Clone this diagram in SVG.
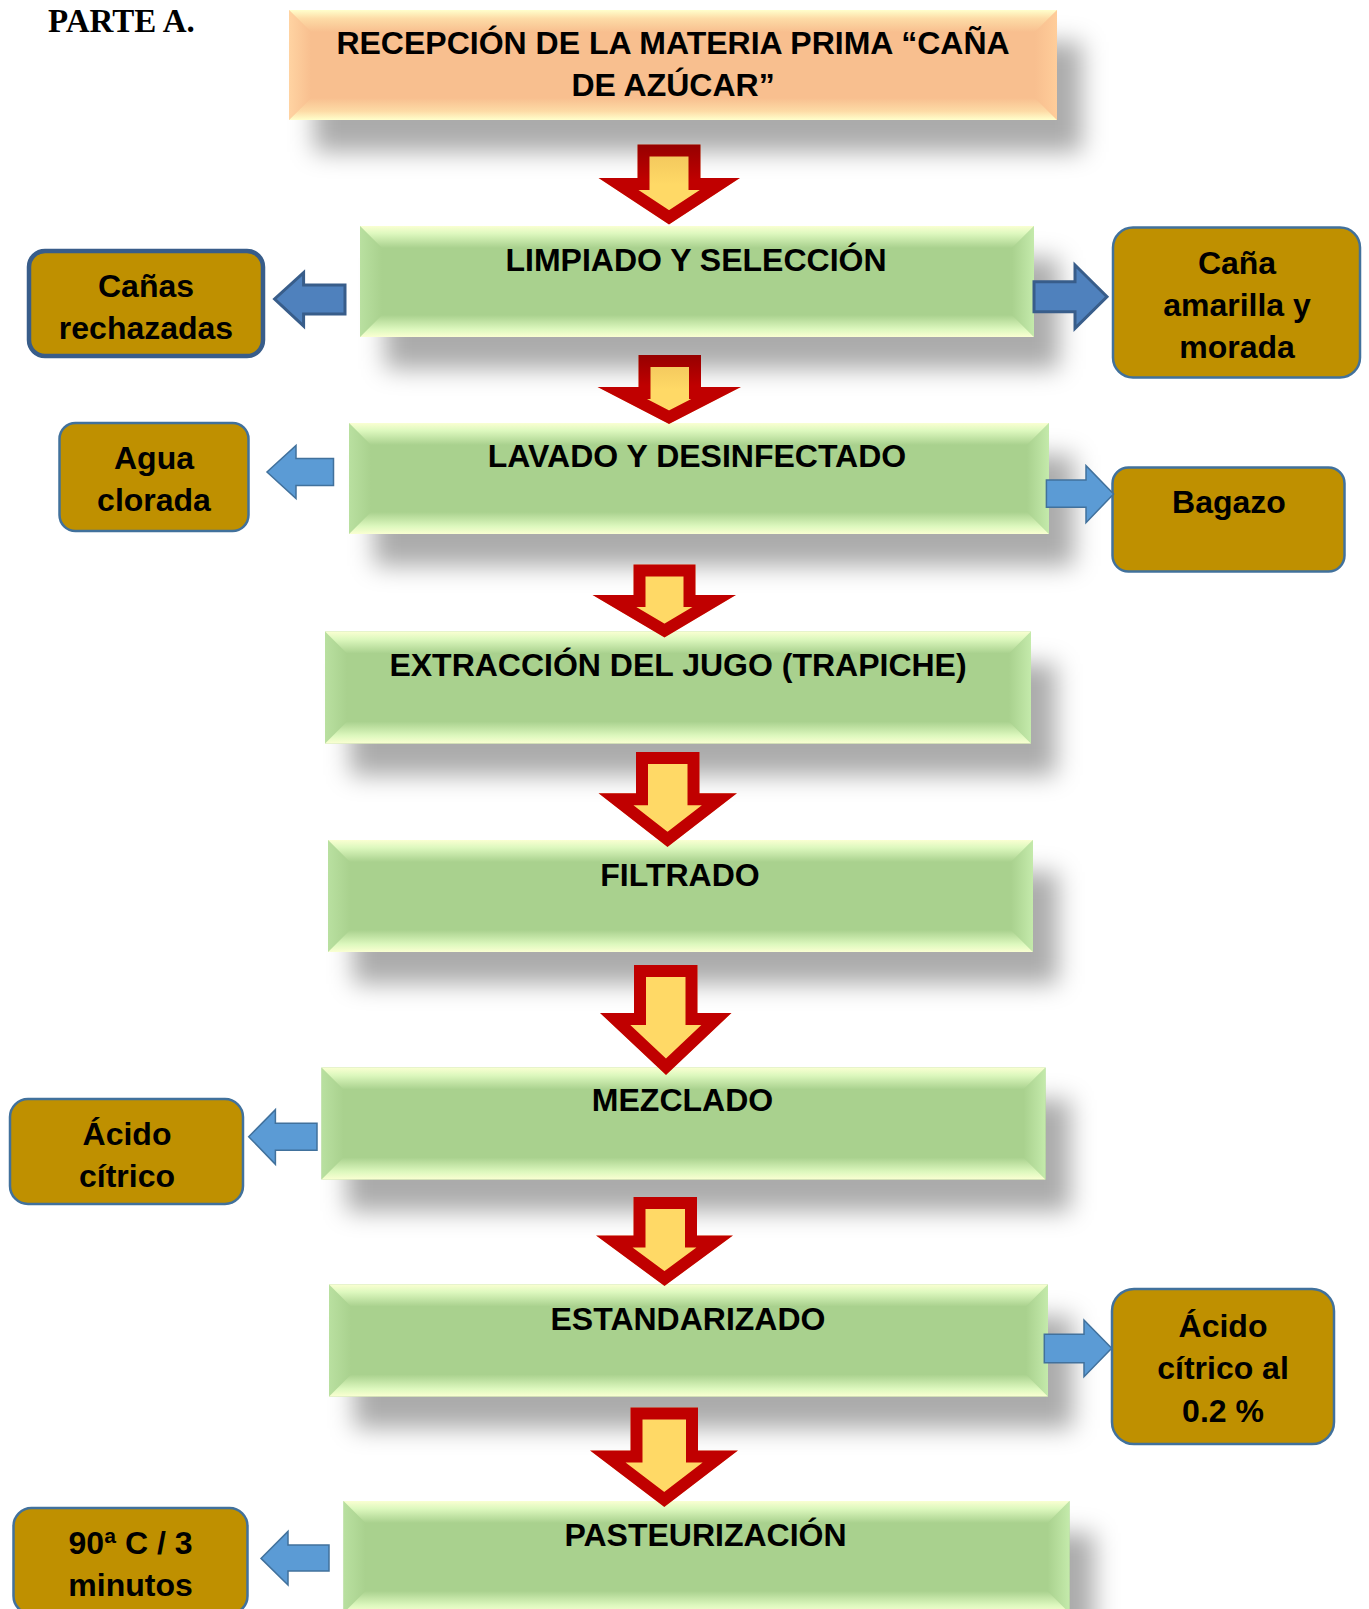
<svg xmlns="http://www.w3.org/2000/svg" xmlns:xlink="http://www.w3.org/1999/xlink" width="1369" height="1609" viewBox="0 0 1369 1609">
<style>
.t{font-family:"Liberation Sans",Arial,sans-serif;font-weight:bold;font-size:32px;fill:#000;text-anchor:middle}
.ttl{font-family:"Liberation Serif","Times New Roman",serif;font-weight:bold;font-size:33px;fill:#000}
.sh{fill:#000;fill-opacity:0.33;filter:url(#blur)}
.gb{fill:#A9D18E}
.gt{fill:url(#gTop)}
.gbo{fill:url(#gBot)}
.gl{fill:url(#gLeft)}
.gr{fill:url(#gRight)}
.pb{fill:#F8BF8F}
.pt{fill:url(#pTop)}
.pbo{fill:url(#pBot)}
.pl{fill:url(#pLeft)}
.pr{fill:url(#pRight)}
.gold{fill:#BF9000;stroke:#41719C;stroke-width:2.5}
.red{fill:#FFD966;stroke:#C00000;stroke-width:24;stroke-linejoin:miter}
.bd{fill:#4F81BD;stroke:#385D8A;stroke-width:3;stroke-linejoin:miter}
.bl{fill:#5B9BD5;stroke:#41719C;stroke-width:1.5;stroke-linejoin:miter}
</style>
<defs>
<filter id="blur" x="-10%" y="-50%" width="120%" height="200%"><feGaussianBlur stdDeviation="12"/></filter>
<linearGradient id="gTop" x1="0" y1="0" x2="0" y2="1"><stop offset="0" stop-color="#FAFFD2"/><stop offset="0.35" stop-color="#DDF8BE"/><stop offset="1" stop-color="#A9D18E"/></linearGradient>
<linearGradient id="gBot" x1="0" y1="0" x2="0" y2="1"><stop offset="0" stop-color="#A9D18E"/><stop offset="0.65" stop-color="#DDF8BE"/><stop offset="1" stop-color="#FAFFD2"/></linearGradient>
<linearGradient id="gLeft" x1="0" y1="0" x2="1" y2="0"><stop offset="0" stop-color="#B9E0A0"/><stop offset="1" stop-color="#A9D18E"/></linearGradient>
<linearGradient id="gRight" x1="0" y1="0" x2="1" y2="0"><stop offset="0" stop-color="#A9D18E"/><stop offset="1" stop-color="#C4EAAB"/></linearGradient>
<linearGradient id="pTop" x1="0" y1="0" x2="0" y2="1"><stop offset="0" stop-color="#FFFFCC"/><stop offset="0.4" stop-color="#FDDBA6"/><stop offset="1" stop-color="#F8BF8F"/></linearGradient>
<linearGradient id="pBot" x1="0" y1="0" x2="0" y2="1"><stop offset="0" stop-color="#F8BF8F"/><stop offset="0.6" stop-color="#FDDBA6"/><stop offset="1" stop-color="#FFFFCC"/></linearGradient>
<linearGradient id="pLeft" x1="0" y1="0" x2="1" y2="0"><stop offset="0" stop-color="#FFD3A2"/><stop offset="1" stop-color="#F8BF8F"/></linearGradient>
<linearGradient id="pRight" x1="0" y1="0" x2="1" y2="0"><stop offset="0" stop-color="#F8BF8F"/><stop offset="1" stop-color="#FFCD9A"/></linearGradient>
<linearGradient id="a1f" x1="0" y1="0" x2="0" y2="1"><stop offset="0" stop-color="#EFC25A"/><stop offset="0.5" stop-color="#FFD966"/></linearGradient>
<linearGradient id="a1s" x1="0" y1="0" x2="0" y2="1"><stop offset="0" stop-color="#960000"/><stop offset="0.45" stop-color="#C00000"/></linearGradient>
<path id="pA1" d="M637.5,144.5 H700.5 V178 H740 L669,224.5 L598.5,178 H637.5 Z"/>
<path id="pA2" d="M638.5,355 H701 V387 H741 L669,424 L597.5,387 H638.5 Z"/>
<path id="pA3" d="M633.5,564.5 H695.5 V595 H736 L664.5,637.5 L592.5,595 H633.5 Z"/>
<path id="pA4" d="M636,752 H699.5 V793.3 H737 L667.5,847 L598.5,793.3 H636 Z"/>
<path id="pA5" d="M634,965 H697.5 V1013 H731.5 L666,1075 L600,1013 H634 Z"/>
<path id="pA6" d="M633.5,1197 H697 V1235.5 H733 L664.5,1286 L596,1235.5 H633.5 Z"/>
<path id="pA7" d="M630.5,1407.5 H698 V1450.5 H738 L664.3,1507 L590,1450.5 H630.5 Z"/>
<clipPath id="cA1"><use xlink:href="#pA1"/></clipPath>
<clipPath id="cA2"><use xlink:href="#pA2"/></clipPath>
<clipPath id="cA3"><use xlink:href="#pA3"/></clipPath>
<clipPath id="cA4"><use xlink:href="#pA4"/></clipPath>
<clipPath id="cA5"><use xlink:href="#pA5"/></clipPath>
<clipPath id="cA6"><use xlink:href="#pA6"/></clipPath>
<clipPath id="cA7"><use xlink:href="#pA7"/></clipPath>
</defs>
<rect width="1369" height="1609" fill="#fff"/>
<text class="ttl" x="48" y="31.5">PARTE A.</text>

<g id="n-recepcion" transform="translate(289,10)">
<rect class="sh" x="25" y="32" width="768" height="110"/>
<rect class="pb" width="768" height="110"/>
<polygon class="pl" points="0,0 22,22 22,88 0,110"/>
<polygon class="pr" points="768,0 746,22 746,88 768,110"/>
<polygon class="pt" points="0,0 768,0 746,22 22,22"/>
<polygon class="pbo" points="0,110 768,110 746,88 22,88"/>
<text class="t" x="384" y="43.5">RECEPCIÓN DE LA MATERIA PRIMA “CAÑA</text>
<text class="t" x="384" y="85.5">DE AZÚCAR”</text>
</g>

<g id="n-limpiado" transform="translate(360,226)">
<rect class="sh" x="25" y="32" width="674" height="111"/>
<rect class="gb" width="674" height="111"/>
<polygon class="gl" points="0,0 22,22 22,89 0,111"/>
<polygon class="gr" points="674,0 652,22 652,89 674,111"/>
<polygon class="gt" points="0,0 674,0 652,22 22,22"/>
<polygon class="gbo" points="0,111 674,111 652,89 22,89"/>
<text class="t" x="336" y="45">LIMPIADO Y SELECCIÓN</text>
</g>

<g id="n-lavado" transform="translate(349,423)">
<rect class="sh" x="25" y="32" width="700" height="111"/>
<rect class="gb" width="700" height="111"/>
<polygon class="gl" points="0,0 22,22 22,89 0,111"/>
<polygon class="gr" points="700,0 678,22 678,89 700,111"/>
<polygon class="gt" points="0,0 700,0 678,22 22,22"/>
<polygon class="gbo" points="0,111 700,111 678,89 22,89"/>
<text class="t" x="348" y="44">LAVADO Y DESINFECTADO</text>
</g>

<g id="n-extraccion" transform="translate(325,631.5)">
<rect class="sh" x="25" y="32" width="706" height="112"/>
<rect class="gb" width="706" height="112"/>
<polygon class="gl" points="0,0 22,22 22,90 0,112"/>
<polygon class="gr" points="706,0 684,22 684,90 706,112"/>
<polygon class="gt" points="0,0 706,0 684,22 22,22"/>
<polygon class="gbo" points="0,112 706,112 684,90 22,90"/>
<text class="t" x="353" y="44">EXTRACCIÓN DEL JUGO (TRAPICHE)</text>
</g>

<g id="n-filtrado" transform="translate(328,840)">
<rect class="sh" x="25" y="32" width="705" height="112"/>
<rect class="gb" width="705" height="112"/>
<polygon class="gl" points="0,0 22,22 22,90 0,112"/>
<polygon class="gr" points="705,0 683,22 683,90 705,112"/>
<polygon class="gt" points="0,0 705,0 683,22 22,22"/>
<polygon class="gbo" points="0,112 705,112 683,90 22,90"/>
<text class="t" x="352" y="45.5">FILTRADO</text>
</g>

<g id="n-mezclado" transform="translate(321.5,1067.5)">
<rect class="sh" x="25" y="32" width="724" height="112"/>
<rect class="gb" width="724" height="112"/>
<polygon class="gl" points="0,0 22,22 22,90 0,112"/>
<polygon class="gr" points="724,0 702,22 702,90 724,112"/>
<polygon class="gt" points="0,0 724,0 702,22 22,22"/>
<polygon class="gbo" points="0,112 724,112 702,90 22,90"/>
<text class="t" x="361" y="43.5">MEZCLADO</text>
</g>

<g id="n-estandarizado" transform="translate(329,1284.5)">
<rect class="sh" x="25" y="32" width="719" height="112"/>
<rect class="gb" width="719" height="112"/>
<polygon class="gl" points="0,0 22,22 22,90 0,112"/>
<polygon class="gr" points="719,0 697,22 697,90 719,112"/>
<polygon class="gt" points="0,0 719,0 697,22 22,22"/>
<polygon class="gbo" points="0,112 719,112 697,90 22,90"/>
<text class="t" x="359" y="45.5">ESTANDARIZADO</text>
</g>

<g id="n-pasteurizacion" transform="translate(343.5,1501)">
<rect class="sh" x="25" y="32" width="726" height="112"/>
<rect class="gb" width="726" height="112"/>
<polygon class="gl" points="0,0 22,22 22,90 0,112"/>
<polygon class="gr" points="726,0 704,22 704,90 726,112"/>
<polygon class="gt" points="0,0 726,0 704,22 22,22"/>
<polygon class="gbo" points="0,112 726,112 704,90 22,90"/>
<text class="t" x="362" y="45">PASTEURIZACIÓN</text>
</g>

<g id="n-canas-rechazadas">
<rect class="gold" x="29" y="251" width="234" height="105" rx="16" style="stroke:#385D8A;stroke-width:4.5"/>
<text class="t" x="146" y="297">Cañas</text>
<text class="t" x="146" y="339">rechazadas</text>
</g>

<g id="n-cana-amarilla">
<rect class="gold" x="1113" y="227.5" width="247" height="150" rx="20"/>
<text class="t" x="1237" y="274">Caña</text>
<text class="t" x="1237" y="316">amarilla y</text>
<text class="t" x="1237" y="357.5">morada</text>
</g>

<g id="n-agua-clorada">
<rect class="gold" x="59.5" y="423" width="189" height="108" rx="16"/>
<text class="t" x="154" y="469">Agua</text>
<text class="t" x="154" y="511">clorada</text>
</g>

<g id="n-bagazo">
<rect class="gold" x="1112.5" y="467.5" width="232" height="104" rx="16"/>
<text class="t" x="1229" y="513">Bagazo</text>
</g>

<g id="n-acido-citrico">
<rect class="gold" x="10" y="1099" width="233" height="105" rx="18"/>
<text class="t" x="127" y="1144.5">Ácido</text>
<text class="t" x="127" y="1186.5">cítrico</text>
</g>

<g id="n-acido-citrico-al">
<rect class="gold" x="1112" y="1289" width="222" height="155" rx="22"/>
<text class="t" x="1223" y="1337">Ácido</text>
<text class="t" x="1223" y="1379">cítrico al</text>
<text class="t" x="1223" y="1421.5">0.2 %</text>
</g>

<g id="n-temperatura">
<rect class="gold" x="13.5" y="1508" width="234" height="106" rx="18"/>
<text class="t" x="130.5" y="1553.5">90ª C / 3</text>
<text class="t" x="130.5" y="1596">minutos</text>
</g>

<g id="connectors">
<use xlink:href="#pA1" clip-path="url(#cA1)" style="fill:url(#a1f);stroke:url(#a1s);stroke-width:24"/>
<use xlink:href="#pA2" clip-path="url(#cA2)" style="fill:url(#a1f);stroke:url(#a1s);stroke-width:24"/>
<use xlink:href="#pA3" class="red" clip-path="url(#cA3)"/>
<use xlink:href="#pA4" class="red" clip-path="url(#cA4)"/>
<use xlink:href="#pA5" class="red" clip-path="url(#cA5)"/>
<use xlink:href="#pA6" class="red" clip-path="url(#cA6)"/>
<use xlink:href="#pA7" class="red" clip-path="url(#cA7)"/>
<path class="bd" d="M345,285 H303.6 V272.7 L274.6,299 L303.6,326 V314 H345 Z"/>
<path class="bd" d="M1034,281.7 H1075 V265 L1107,296.7 L1075,328.3 V311.7 H1034 Z"/>
<path class="bl" d="M333.5,458.5 H296 V445.5 L267,472 L296,498.5 V485.5 H333.5 Z"/>
<path class="bl" d="M1046.4,480 H1086 V465.7 L1113.6,494 L1086,522.7 V507.3 H1046.4 Z"/>
<path class="bl" d="M317,1123.2 H275.4 V1109.7 L248.7,1136.7 L275.4,1164.3 V1150.2 H317 Z"/>
<path class="bl" d="M1044.3,1334.3 H1084 V1320 L1111.7,1348.3 L1084,1376.7 V1362.7 H1044.3 Z"/>
<path class="bl" d="M329,1545 H288 V1531.4 L261,1558.4 L288,1585 V1571 H329 Z"/>
</g>
</svg>
